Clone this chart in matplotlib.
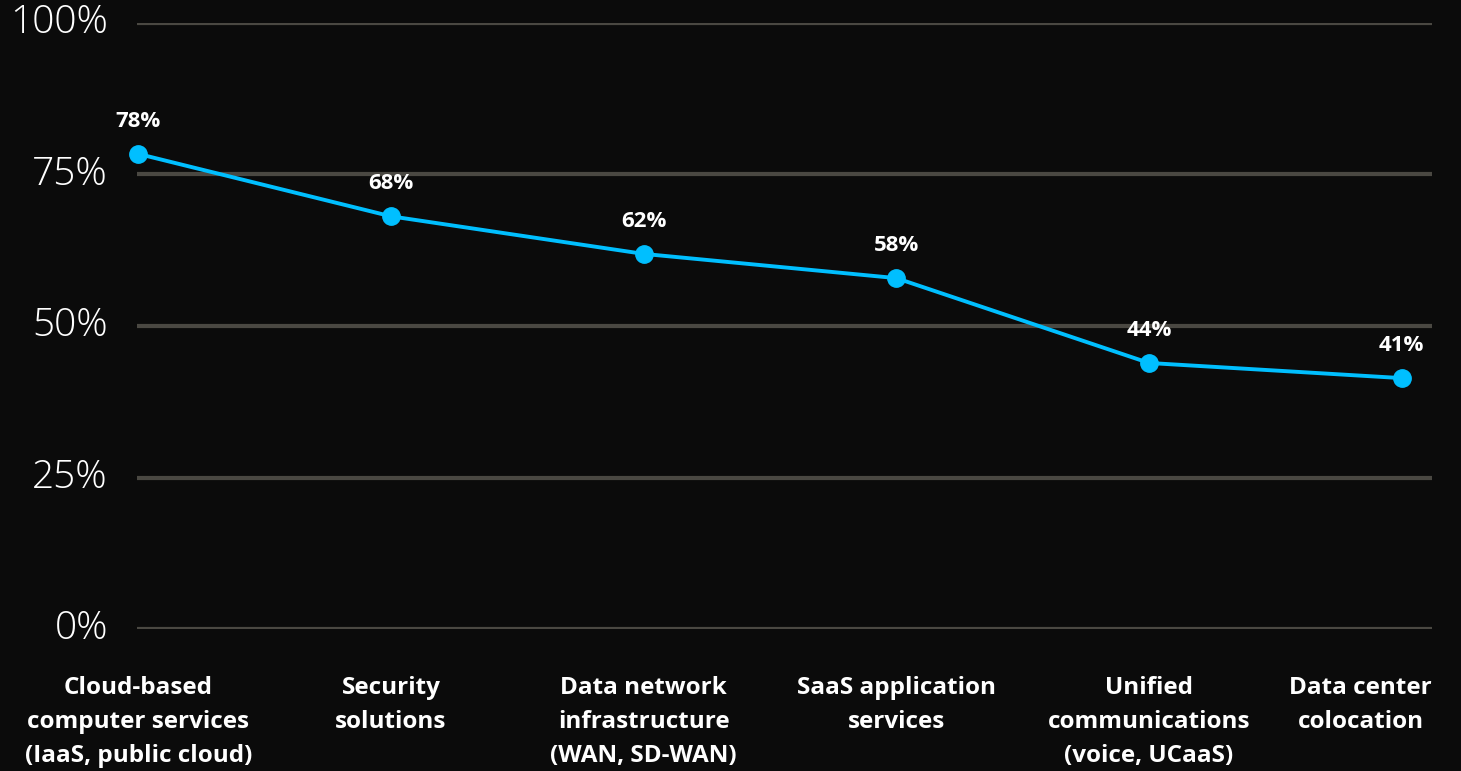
import matplotlib.pyplot as plt
import numpy as np

categories = ["Cloud-based\ncomputer services\n(IaaS, public cloud)",
              "Security\nsolutions",
              "Data network\ninfrastructure\n(WAN, SD-WAN)",
              "SaaS application\nservices",
              "Unified\ncommunications\n(voice, UCaaS)",
              "Data center\ncolocation"]
values = [78.4, 68.1, 61.9, 57.9, 43.9, 41.4]
yticks = [0, 25, 50, 75, 100]

BG = "#0b0b0b"
GRID = "#4a4842"
LINE = "#00bfff"

fig = plt.figure(figsize=(14.61, 7.71), dpi=100, facecolor=BG)
ax = fig.add_axes([137/1461, 1-629/771, (1432-137)/1461, (629-23)/771])
ax.set_facecolor(BG)

x = np.arange(len(values))
ax.plot(x, values, color=LINE, lw=2.8, marker="o", ms=12.5, zorder=3, clip_on=False)
for xi, v in zip(x, values):
    ax.annotate("%d%%" % round(v), (xi, v), xytext=(0, 16), textcoords="offset points",
                ha="center", va="bottom", color="white", fontsize=16,
                fontweight="bold", family="Open Sans")

for t in yticks:
    ax.axhline(t, color=GRID, lw=3, zorder=1)
    ax.text(-0.12, t, "%d%%" % t, ha="right", va="center", color="white",
            fontsize=28, fontweight="light", family="Open Sans")

ax.set_xlim(-0.005, 5.12)
ax.set_ylim(0, 100)
for s in ax.spines.values():
    s.set_visible(False)
ax.set_xticks([])
ax.set_yticks([])

for xi, lab in zip(x, categories):
    if xi == len(categories) - 1:
        ax.annotate(lab, (5.12, 0), xytext=(0, -34), textcoords="offset points",
                    ha="right", va="top", multialignment="center", color="white",
                    fontsize=17.5, fontweight="bold", family="Open Sans", linespacing=1.54)
    else:
        ax.annotate(lab, (xi, 0), xytext=(0, -34), textcoords="offset points",
                    ha="center", va="top", color="white", fontsize=17.5,
                    fontweight="bold", family="Open Sans", linespacing=1.54)

fig.savefig("out.png", dpi=100, facecolor=BG)
